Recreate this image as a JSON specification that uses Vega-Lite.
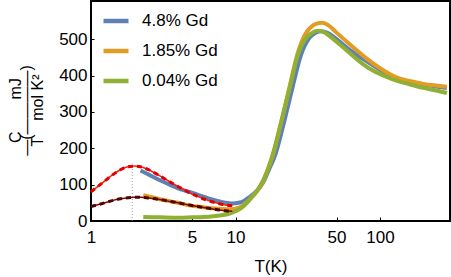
{
  "$schema": "https://vega.github.io/schema/vega-lite/v6.json",
  "width": 359,
  "height": 220,
  "autosize": {"type": "none"},
  "padding": {"left": 91, "top": 1, "right": 1, "bottom": 56},
  "config": {
    "font": "Liberation Sans",
    "view": {"stroke": "black", "strokeWidth": 2},
    "axis": {"grid": false, "domain": false, "tickColor": "black", "labelColor": "black", "titleColor": "black", "titleFontWeight": "normal"}
  },
  "datasets": {
    "series": [
      {"s": "4.8% Gd", "T": 2.2, "C": 139}, {"s": "4.8% Gd", "T": 2.5, "C": 128}, {"s": "4.8% Gd", "T": 3, "C": 112},
      {"s": "4.8% Gd", "T": 3.5, "C": 100}, {"s": "4.8% Gd", "T": 4, "C": 90}, {"s": "4.8% Gd", "T": 4.8, "C": 80},
      {"s": "4.8% Gd", "T": 5.5, "C": 72}, {"s": "4.8% Gd", "T": 6.5, "C": 62}, {"s": "4.8% Gd", "T": 7.5, "C": 55},
      {"s": "4.8% Gd", "T": 8.5, "C": 50}, {"s": "4.8% Gd", "T": 9.5, "C": 48}, {"s": "4.8% Gd", "T": 10.5, "C": 50},
      {"s": "4.8% Gd", "T": 11.5, "C": 56}, {"s": "4.8% Gd", "T": 12.5, "C": 66}, {"s": "4.8% Gd", "T": 14, "C": 82},
      {"s": "4.8% Gd", "T": 15.5, "C": 105}, {"s": "4.8% Gd", "T": 17, "C": 140}, {"s": "4.8% Gd", "T": 19, "C": 186},
      {"s": "4.8% Gd", "T": 21.8, "C": 276}, {"s": "4.8% Gd", "T": 24.8, "C": 367}, {"s": "4.8% Gd", "T": 28.3, "C": 455},
      {"s": "4.8% Gd", "T": 32, "C": 500}, {"s": "4.8% Gd", "T": 35, "C": 515}, {"s": "4.8% Gd", "T": 39, "C": 522},
      {"s": "4.8% Gd", "T": 43, "C": 518}, {"s": "4.8% Gd", "T": 50, "C": 500}, {"s": "4.8% Gd", "T": 60, "C": 474},
      {"s": "4.8% Gd", "T": 76.6, "C": 445}, {"s": "4.8% Gd", "T": 100, "C": 416}, {"s": "4.8% Gd", "T": 130, "C": 391},
      {"s": "4.8% Gd", "T": 160, "C": 382}, {"s": "4.8% Gd", "T": 200, "C": 375}, {"s": "4.8% Gd", "T": 250, "C": 369},
      {"s": "4.8% Gd", "T": 290, "C": 366},
      {"s": "1.85% Gd", "T": 2.3, "C": 71}, {"s": "1.85% Gd", "T": 3, "C": 60}, {"s": "1.85% Gd", "T": 4, "C": 50},
      {"s": "1.85% Gd", "T": 4.8, "C": 43}, {"s": "1.85% Gd", "T": 6, "C": 38}, {"s": "1.85% Gd", "T": 7, "C": 35},
      {"s": "1.85% Gd", "T": 8, "C": 33}, {"s": "1.85% Gd", "T": 9, "C": 32}, {"s": "1.85% Gd", "T": 10, "C": 34},
      {"s": "1.85% Gd", "T": 11, "C": 40}, {"s": "1.85% Gd", "T": 12, "C": 52}, {"s": "1.85% Gd", "T": 13, "C": 66},
      {"s": "1.85% Gd", "T": 14.7, "C": 92}, {"s": "1.85% Gd", "T": 16.5, "C": 135}, {"s": "1.85% Gd", "T": 18.2, "C": 183},
      {"s": "1.85% Gd", "T": 20.8, "C": 274}, {"s": "1.85% Gd", "T": 23.7, "C": 370}, {"s": "1.85% Gd", "T": 27.1, "C": 465},
      {"s": "1.85% Gd", "T": 30, "C": 510}, {"s": "1.85% Gd", "T": 33, "C": 532}, {"s": "1.85% Gd", "T": 36, "C": 542},
      {"s": "1.85% Gd", "T": 40, "C": 545}, {"s": "1.85% Gd", "T": 44, "C": 538}, {"s": "1.85% Gd", "T": 50, "C": 518},
      {"s": "1.85% Gd", "T": 60, "C": 490}, {"s": "1.85% Gd", "T": 76.6, "C": 454}, {"s": "1.85% Gd", "T": 100, "C": 420},
      {"s": "1.85% Gd", "T": 130, "C": 395}, {"s": "1.85% Gd", "T": 160, "C": 385}, {"s": "1.85% Gd", "T": 200, "C": 377},
      {"s": "1.85% Gd", "T": 250, "C": 372}, {"s": "1.85% Gd", "T": 290, "C": 369},
      {"s": "0.04% Gd", "T": 2.3, "C": 11}, {"s": "0.04% Gd", "T": 3, "C": 10}, {"s": "0.04% Gd", "T": 4, "C": 9},
      {"s": "0.04% Gd", "T": 5, "C": 10}, {"s": "0.04% Gd", "T": 6, "C": 11}, {"s": "0.04% Gd", "T": 7, "C": 13},
      {"s": "0.04% Gd", "T": 8, "C": 16}, {"s": "0.04% Gd", "T": 9, "C": 20}, {"s": "0.04% Gd", "T": 10, "C": 27},
      {"s": "0.04% Gd", "T": 11, "C": 36}, {"s": "0.04% Gd", "T": 12, "C": 50}, {"s": "0.04% Gd", "T": 13, "C": 66},
      {"s": "0.04% Gd", "T": 14.7, "C": 94}, {"s": "0.04% Gd", "T": 16.5, "C": 135}, {"s": "0.04% Gd", "T": 18.2, "C": 186},
      {"s": "0.04% Gd", "T": 20.8, "C": 276}, {"s": "0.04% Gd", "T": 23.7, "C": 367}, {"s": "0.04% Gd", "T": 27.1, "C": 458},
      {"s": "0.04% Gd", "T": 30.9, "C": 504}, {"s": "0.04% Gd", "T": 33.5, "C": 516}, {"s": "0.04% Gd", "T": 37, "C": 523},
      {"s": "0.04% Gd", "T": 40, "C": 521}, {"s": "0.04% Gd", "T": 45, "C": 508}, {"s": "0.04% Gd", "T": 50, "C": 493},
      {"s": "0.04% Gd", "T": 60, "C": 466}, {"s": "0.04% Gd", "T": 76.6, "C": 431}, {"s": "0.04% Gd", "T": 90, "C": 413},
      {"s": "0.04% Gd", "T": 110, "C": 397}, {"s": "0.04% Gd", "T": 130, "C": 386}, {"s": "0.04% Gd", "T": 160, "C": 376},
      {"s": "0.04% Gd", "T": 200, "C": 366}, {"s": "0.04% Gd", "T": 250, "C": 358}, {"s": "0.04% Gd", "T": 290, "C": 352}
    ],
    "fits": [
      {"f": "a", "T": 1.0, "C": 80}, {"f": "a", "T": 1.2, "C": 105}, {"f": "a", "T": 1.4, "C": 126}, {"f": "a", "T": 1.6, "C": 141},
      {"f": "a", "T": 1.8, "C": 149}, {"f": "a", "T": 2.0, "C": 151}, {"f": "a", "T": 2.2, "C": 149}, {"f": "a", "T": 2.5, "C": 141},
      {"f": "a", "T": 3.0, "C": 124}, {"f": "a", "T": 3.5, "C": 108}, {"f": "a", "T": 4.0, "C": 95}, {"f": "a", "T": 4.8, "C": 78},
      {"f": "a", "T": 5.5, "C": 67}, {"f": "a", "T": 6.5, "C": 56}, {"f": "a", "T": 7.5, "C": 49}, {"f": "a", "T": 8.5, "C": 44},
      {"f": "a", "T": 9.5, "C": 42},
      {"f": "b", "T": 1.0, "C": 40}, {"f": "b", "T": 1.2, "C": 48}, {"f": "b", "T": 1.4, "C": 56}, {"f": "b", "T": 1.6, "C": 61},
      {"f": "b", "T": 1.8, "C": 64}, {"f": "b", "T": 2.0, "C": 65}, {"f": "b", "T": 2.2, "C": 65}, {"f": "b", "T": 2.5, "C": 63},
      {"f": "b", "T": 3.0, "C": 59}, {"f": "b", "T": 3.5, "C": 54}, {"f": "b", "T": 4.0, "C": 50}, {"f": "b", "T": 4.8, "C": 44},
      {"f": "b", "T": 5.5, "C": 40}, {"f": "b", "T": 6.5, "C": 35}, {"f": "b", "T": 7.5, "C": 31}, {"f": "b", "T": 8.5, "C": 28},
      {"f": "b", "T": 9.5, "C": 27}
    ],
    "marker": [{"T": 1.93, "C": 0, "C2": 158}]
  },
  "encoding": {
    "x": {
      "field": "T", "type": "quantitative",
      "scale": {"type": "log", "domain": [1, 305], "nice": false},
      "axis": {
        "values": [1, 5, 10, 50, 100], "format": "d",
        "title": "T(K)", "titleFontSize": 17, "titleBaseline": "top", "titleY": 37,
        "labelFontSize": 17, "tickSize": -4, "labelPadding": 12, "labelFlush": false
      }
    },
    "y": {
      "field": "C", "type": "quantitative",
      "scale": {"domain": [0, 605], "nice": false, "zero": true},
      "axis": {
        "values": [0, 100, 200, 300, 400, 500],
        "labelFontSize": 17, "tickSize": -3, "labelPadding": 7,
        "title": ["C\u2003\u2003mJ\u2003\u00a0\u00a0\u00a0", "\u2014(\u2015\u2015\u2015\u2015)\u00a0", "T\u2003mol K\u00b2\u2003\u00a0\u00a0"],
        "titleFontSize": 16, "titleLineHeight": 11, "titleAngle": 270,
        "titleBaseline": "middle", "titleAlign": "center", "titleX": -76, "titleY": 109
      }
    }
  },
  "layer": [
    {
      "data": {"name": "marker"},
      "mark": {"type": "rule", "color": "#888888", "strokeWidth": 0.8, "strokeDash": [1, 2]},
      "encoding": {"y2": {"field": "C2"}}
    },
    {
      "data": {"name": "series"},
      "mark": {"type": "line", "strokeWidth": 4, "clip": true, "interpolate": "monotone"},
      "encoding": {
        "color": {
          "field": "s", "type": "nominal",
          "scale": {"domain": ["4.8% Gd", "1.85% Gd", "0.04% Gd"], "range": ["#5e81b5", "#e19c24", "#8fb032"]},
          "legend": {
            "orient": "none", "legendX": 10, "legendY": 5, "title": null, "padding": 0,
            "symbolType": "stroke", "symbolSize": 625, "symbolStrokeWidth": 4.5,
            "labelFontSize": 17, "labelOffset": 11, "rowPadding": 6, "labelColor": "black"
          }
        }
      }
    },
    {
      "data": {"name": "fits"},
      "transform": [{"filter": "datum.f === 'a'"}],
      "mark": {"type": "line", "color": "#ff1a1a", "strokeWidth": 1.5, "interpolate": "monotone"},
      "encoding": {}
    },
    {
      "data": {"name": "fits"},
      "transform": [{"filter": "datum.f === 'a'"}],
      "mark": {"type": "line", "color": "#e00000", "strokeWidth": 3, "strokeDash": [5, 4], "interpolate": "monotone"},
      "encoding": {}
    },
    {
      "data": {"name": "fits"},
      "transform": [{"filter": "datum.f === 'b'"}],
      "mark": {"type": "line", "color": "#8b0000", "strokeWidth": 1.5, "interpolate": "monotone"},
      "encoding": {}
    },
    {
      "data": {"name": "fits"},
      "transform": [{"filter": "datum.f === 'b'"}],
      "mark": {"type": "line", "color": "#4a0505", "strokeWidth": 3, "strokeDash": [5, 4], "interpolate": "monotone"},
      "encoding": {}
    }
  ]
}
